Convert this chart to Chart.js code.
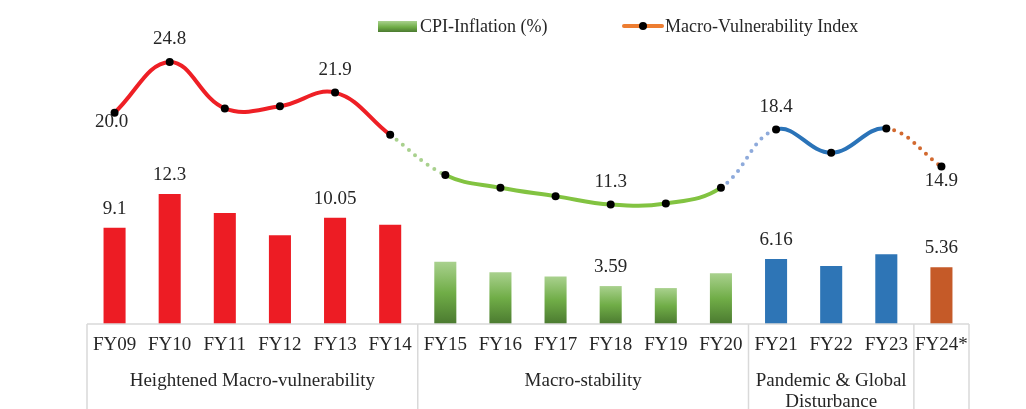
<!DOCTYPE html>
<html>
<head>
<meta charset="utf-8">
<script src="https://cdn.jsdelivr.net/npm/chart.js@4.4.1/dist/chart.umd.min.js"></script>
<style>
  html, body { margin: 0; padding: 0; background: #fff; }
  .wrap { position: relative; width: 1026px; height: 409px; }
  canvas { position: absolute; left: 0; top: 0; }
  .legend { position: absolute; top: 15px; left: 0; font: 18px "Liberation Serif", "Times New Roman", serif; color: #262626; }
  .legend .item { position: absolute; white-space: nowrap; line-height: 22px; }
  .legend .box { position: absolute; left: -42px; top: 6px; width: 39px; height: 11px;
    background: linear-gradient(#a9d18e, #70ad47 55%, #4b7a30); }
  .legend .ln { position: absolute; left: -43px; top: 9px; width: 42px; height: 4px; border-radius: 2px; background: #ed7d31; }
  .legend .ln::after { content: ''; position: absolute; left: 17px; top: -2px; width: 8px; height: 8px; border-radius: 50%; background: #000; }
</style>
</head>
<body>
<div class="wrap">
  <canvas id="chart" width="1026" height="409"></canvas>
  <div class="legend">
    <div class="item" style="left:420px"><span class="box"></span>CPI-Inflation (%)</div>
    <div class="item" style="left:665px"><span class="ln"></span>Macro-Vulnerability Index</div>
  </div>
</div>
<script>
const categories = ['FY09', 'FY10', 'FY11', 'FY12', 'FY13', 'FY14', 'FY15', 'FY16',
  'FY17', 'FY18', 'FY19', 'FY20', 'FY21', 'FY22', 'FY23', 'FY24*'];
const cpiInflation = [9.1, 12.3, 10.5, 8.4, 10.05, 9.4, 5.9, 4.9, 4.5, 3.59, 3.4, 4.8, 6.16, 5.5, 6.6, 5.36];
const macroVulnerability = [20.0, 24.8, 20.4, 20.6, 21.9, 17.9, 14.1, 12.9, 12.1, 11.3, 11.4, 12.9, 18.4, 16.2, 18.5, 14.9];
const groupNames = [['Heightened Macro-vulnerability'], ['Macro-stability'], ['Pandemic & Global', 'Disturbance'], []];
const groupSizes = [6, 6, 3, 1];
const labelledPoints = [0, 1, 4, 9, 12, 15];

const FONT = '"Liberation Serif", "Times New Roman", serif';
const TEXT = '#262626';

function groupOf(i) {
  let end = 0;
  for (let g = 0; g < groupSizes.length; g++) {
    end += groupSizes[g];
    if (i < end) return g;
  }
  return groupSizes.length - 1;
}

const barColors = ['#ed1c24', null, '#2e75b6', '#c55a28'];
const lineColors = ['#ee1f25', '#82c341', '#2a73b8', '#d2692f'];
const linkColors = [null, '#a9d18e', '#8eaadb', '#d2692f'];

function barColor(ctx) {
  const g = groupOf(ctx.dataIndex);
  if (barColors[g]) return barColors[g];
  const chart = ctx.chart;
  if (!chart.chartArea || ctx.type !== 'data') return '#70ad47';
  const y = chart.scales.y;
  const top = y.getPixelForValue(cpiInflation[ctx.dataIndex]);
  const bottom = y.getPixelForValue(0);
  const grad = chart.ctx.createLinearGradient(0, top, 0, bottom);
  grad.addColorStop(0, '#a9d18e');
  grad.addColorStop(0.5, '#70ad47');
  grad.addColorStop(1, '#4b7a30');
  return grad;
}

// segment between groups is dotted, in the colour of the next group
function segColor(ctx) {
  const g0 = groupOf(ctx.p0DataIndex), g1 = groupOf(ctx.p1DataIndex);
  return g0 === g1 ? lineColors[g0] : linkColors[g1];
}
function segDash(ctx) {
  return groupOf(ctx.p0DataIndex) === groupOf(ctx.p1DataIndex) ? [] : [0, 8];
}

const decorations = {
  id: 'decorations',
  afterDatasetsDraw(chart) {
    const { ctx, chartArea, scales: { x } } = chart;
    const half = (x.getPixelForValue(1) - x.getPixelForValue(0)) / 2;
    ctx.save();
    // axis line and group separators
    ctx.strokeStyle = '#d9d9d9';
    ctx.lineWidth = 1.5;
    ctx.beginPath();
    ctx.moveTo(x.getPixelForValue(0) - half, chartArea.bottom);
    ctx.lineTo(x.getPixelForValue(categories.length - 1) + half, chartArea.bottom);
    let start = 0;
    const edges = [0];
    groupSizes.forEach((n) => { start += n; edges.push(start); });
    edges.forEach((e) => {
      const px = x.getPixelForValue(e) - half;
      ctx.moveTo(px, chartArea.bottom);
      ctx.lineTo(px, chart.height);
    });
    ctx.stroke();

    // group titles
    ctx.fillStyle = TEXT;
    ctx.font = '19px ' + FONT;
    ctx.textAlign = 'center';
    ctx.textBaseline = 'middle';
    groupNames.forEach((lines, g) => {
      const a = x.getPixelForValue(edges[g]) - half;
      const b = x.getPixelForValue(edges[g + 1]) - half;
      lines.forEach((t, k) => ctx.fillText(t, (a + b) / 2, chartArea.bottom + 57 + k * 21));
    });

    // value labels
    const bars = chart.getDatasetMeta(0).data;
    const pts = chart.getDatasetMeta(1).data;
    labelledPoints.forEach((i) => {
      ctx.fillText(String(cpiInflation[i]), bars[i].x, bars[i].y - 19);
      const first = i === 0, last = i === categories.length - 1;
      const dy = first ? 9 : last ? 14 : -23;
      ctx.fillText(macroVulnerability[i].toFixed(1), pts[i].x - (first ? 3 : 0), pts[i].y + dy);
    });
    ctx.restore();
  }
};

new Chart(document.getElementById('chart'), {
  type: 'bar',
  data: {
    labels: categories,
    datasets: [{
      type: 'bar',
      label: 'CPI-Inflation (%)',
      data: cpiInflation,
      backgroundColor: barColor,
      barPercentage: 0.4,
      categoryPercentage: 1,
      order: 2
    }, {
      type: 'line',
      label: 'Macro-Vulnerability Index',
      data: macroVulnerability,
      borderColor: lineColors[0],
      borderWidth: 4,
      borderCapStyle: 'round',
      tension: 0.4,
      pointRadius: 4,
      pointBackgroundColor: '#000',
      pointBorderColor: '#000',
      pointBorderWidth: 0,
      segment: { borderColor: segColor, borderDash: segDash },
      order: 1
    }]
  },
  options: {
    responsive: false,
    animation: false,
    devicePixelRatio: 1,
    layout: { padding: { top: 7, left: 87, right: 57, bottom: 0 } },
    plugins: { legend: { display: false }, tooltip: { enabled: false } },
    scales: {
      x: {
        grid: { display: false, drawTicks: false },
        border: { display: false },
        ticks: { color: TEXT, font: { family: FONT, size: 19 }, padding: 10, maxRotation: 0, autoSkip: false },
        afterFit: (axis) => { axis.height = 85; }
      },
      y: { display: false, min: 0, max: 30 }
    }
  },
  plugins: [decorations]
});
</script>
</body>
</html>
